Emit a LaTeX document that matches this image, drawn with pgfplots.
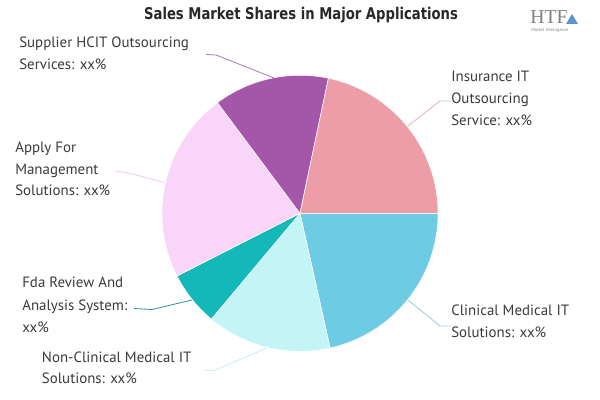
\documentclass[border=0pt]{standalone}
\usepackage{pgfplots}
\usepackage{pgfplotstable}
\pgfplotsset{compat=1.18}
\usepackage{fontspec}
\setmainfont{PT Sans}
\newfontfamily\titlefont[FakeStretch=0.815]{DejaVu Sans Bold}
\newfontfamily\logofont{Liberation Serif}

\definecolor{color0}{HTML}{6DCBE3}
\definecolor{color1}{HTML}{C3F5F7}
\definecolor{color2}{HTML}{14B8B9}
\definecolor{color3}{HTML}{F9D5F9}
\definecolor{color4}{HTML}{A456A8}
\definecolor{color5}{HTML}{EC9DA8}
\definecolor{txt}{HTML}{3A3A3A}

% shares in percent, clockwise from 3 o'clock
\pgfplotstableread{
label share
Clinical 21.5
NonClinical 14.6
Fda 6.4
Apply 22.3
Supplier 13.5
Insurance 21.7
}\sharetable

\begin{document}
\begin{tikzpicture}
\begin{axis}[
  x=0.025cm, y=0.025cm,
  xmin=0, xmax=600, ymin=0, ymax=400,
  y dir=reverse,
  hide axis, clip=false,
  scale only axis,
]
\def\cum{0}
\pgfplotsforeachungrouped \i in {0,...,5}{%
  \pgfplotstablegetelem{\i}{share}\of\sharetable
  \pgfmathsetmacro\startang{-\cum}%
  \pgfmathsetmacro\cum{\cum+\pgfplotsretval*3.6}%
  \pgfmathsetmacro\endang{-\cum}%
  \edef\tmp{\noexpand\fill[color\i, draw=white, line width=0.4pt, line join=round] (axis cs:300,213.3) -- ++(\startang:3.45cm) arc[start angle=\startang, end angle=\endang, radius=3.45cm] -- cycle;}%
  \tmp
}

% leader lines
\draw[color={rgb,255:red,170;green,130;blue,170}, line width=0.6pt] (axis cs:206,54.5) -- (axis cs:216,55) -- (axis cs:274,78);
\draw[color={rgb,255:red,240;green,200;blue,240}, line width=0.6pt] (axis cs:116,171.5) -- (axis cs:127,172.5) -- (axis cs:164,182.5);
\draw[color={rgb,255:red,50;green,150;blue,155}, line width=0.6pt] (axis cs:134,308.5) -- (axis cs:152,309.5) -- (axis cs:192,300);
\draw[color={rgb,255:red,200;green,240;blue,242}, line width=0.6pt] (axis cs:204,370) -- (axis cs:214,370.5) -- (axis cs:267,348);
\draw[color={rgb,255:red,225;green,180;blue,190}, line width=0.6pt] (axis cs:451,101) -- (axis cs:440,101) -- (axis cs:408,126);
\draw[color={rgb,255:red,160;green,205;blue,218}, line width=0.6pt] (axis cs:451,326) -- (axis cs:440,326) -- (axis cs:408,300);

% labels
\begin{scope}[every node/.style={anchor=base west, inner sep=0pt, text=txt, font=\fontsize{10.6}{12}\selectfont}]
\node at (axis cs:19,48) {Supplier HCIT Outsourcing};
\node at (axis cs:19,69.7) {Services: xx\%};
\node at (axis cs:15,152.2) {Apply For};
\node at (axis cs:15,174.2) {Management};
\node at (axis cs:15,196) {Solutions: xx\%};
\node at (axis cs:22,288) {Fda Review And};
\node at (axis cs:22,310.5) {Analysis System:};
\node at (axis cs:22,332.8) {xx\%};
\node at (axis cs:41.7,362.2) {Non-Clinical Medical IT};
\node at (axis cs:41.7,383.8) {Solutions: xx\%};
\node at (axis cs:451,81.3) {Insurance IT};
\node at (axis cs:451,103.3) {Outsourcing};
\node at (axis cs:451,125.5) {Service: xx\%};
\node at (axis cs:451,315.5) {Clinical Medical IT};
\node at (axis cs:451,338) {Solutions: xx\%};
\end{scope}

% title
\node[anchor=base, inner sep=0pt, text={rgb,255:red,40;green,40;blue,40}, font=\titlefont\fontsize{11.5}{12}\selectfont] at (axis cs:301,20) {Sales Market Shares in Major Applications};

% logo
\node[anchor=base west, inner sep=0pt, text=gray, font=\logofont\fontsize{14}{14}\selectfont] at (axis cs:530,24) {HTF};
\node[anchor=base west, inner sep=0pt, text=gray, font=\fontsize{3.2}{4}\selectfont] at (axis cs:531,32) {Market Intelligence};
\fill[color={rgb,255:red,90;green,150;blue,210}] (axis cs:566,24) -- (axis cs:578,24) -- (axis cs:572,14) -- cycle;
\end{axis}
\pgfresetboundingbox
\path (current axis.south west) rectangle (current axis.north east);
\end{tikzpicture}
\end{document}
